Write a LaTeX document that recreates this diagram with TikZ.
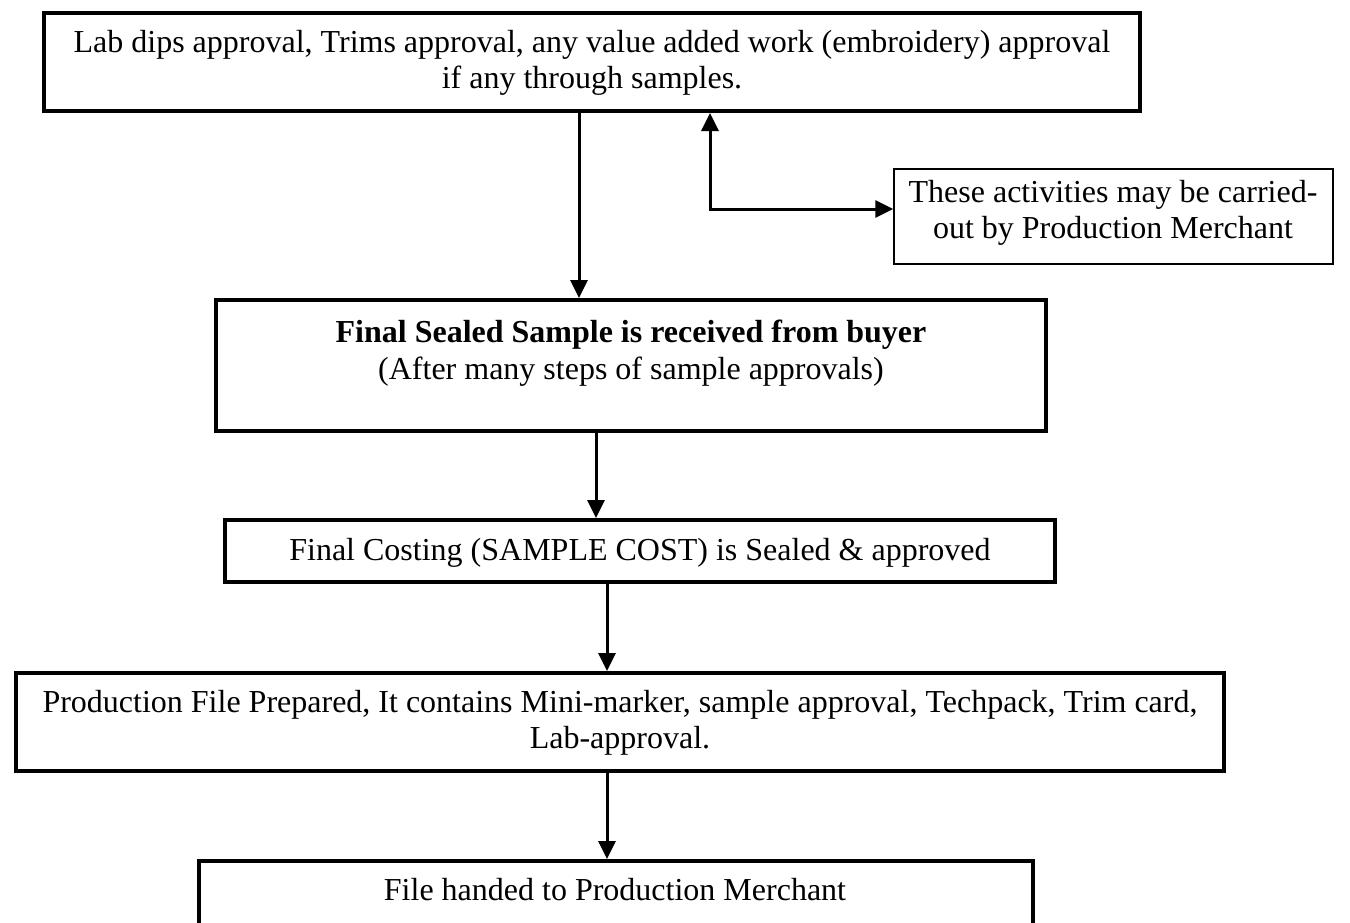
\documentclass[tikz,border=0pt]{standalone}
\usepackage{fontspec}
\setmainfont{Liberation Serif}
\usetikzlibrary{arrows.meta,calc}
\begin{document}
\begin{tikzpicture}[x=1pt,y=-1pt,
  box/.style={draw,line width=4pt,inner sep=0pt},
  sidebox/.style={draw,line width=1.5pt,inner sep=0pt},
  txt/.style={align=center,inner sep=0pt,anchor=north,font=\fontsize{32}{36.5}\selectfont},
  tip/.tip={Triangle[length=18pt,width=17pt]},
  arr/.style={line width=3pt,-tip}]
\useasboundingbox (0,0) rectangle (1350,922);
\clip (0,0) rectangle (1350,922);
\fill[white] (0,0) rectangle (1350,922);
% boxes
\node[box,minimum width=1096pt,minimum height=98pt] (b1) at (592,62) {};
\node[box,minimum width=830pt,minimum height=131pt] (b2) at (631,365.5) {};
\node[box,minimum width=830pt,minimum height=62pt] (b3) at (640,551) {};
\node[box,minimum width=1208pt,minimum height=98pt] (b4) at (620,722) {};
\node[box,minimum width=834pt,minimum height=99pt] (b5) at (616,910.5) {};
\node[sidebox,minimum width=439pt,minimum height=95pt] (side) at (1113.5,216.5) {};
% texts
\node[txt] (t1) at (592,30) {Lab dips approval, Trims approval, any value added work (embroidery) approval\\if any through samples.};
\node[txt] (t2) at (631,320) {\textbf{Final Sealed Sample is received from buyer}\\(After many steps of sample approvals)};
\node[txt] (t3) at (640,538) {Final Costing (SAMPLE COST) is Sealed \& approved};
\node[txt] (t4) at (620,690) {Production File Prepared, It contains Mini-marker, sample approval, Techpack, Trim card,\\Lab-approval.};
\node[txt] (t5) at (615,878) {File handed to Production Merchant};
\node[txt] (t6) at (1113,180) {These activities may be carried-\\out by Production Merchant};
% connectors
\coordinate (xA) at (579,0);
\coordinate (xB) at (596,0);
\coordinate (xC) at (607,0);
\coordinate (j) at (710,209);
\draw[arr] (b1.south -| xA) -- (b2.north -| xA);
\draw[line width=3pt,tip-tip] (b1.south -| j) -- (j) -- (side.west |- j);
\draw[arr] (b2.south -| xB) -- (b3.north -| xB);
\draw[arr] (b3.south -| xC) -- (b4.north -| xC);
\draw[arr] (b4.south -| xC) -- (b5.north -| xC);
\end{tikzpicture}
\end{document}
